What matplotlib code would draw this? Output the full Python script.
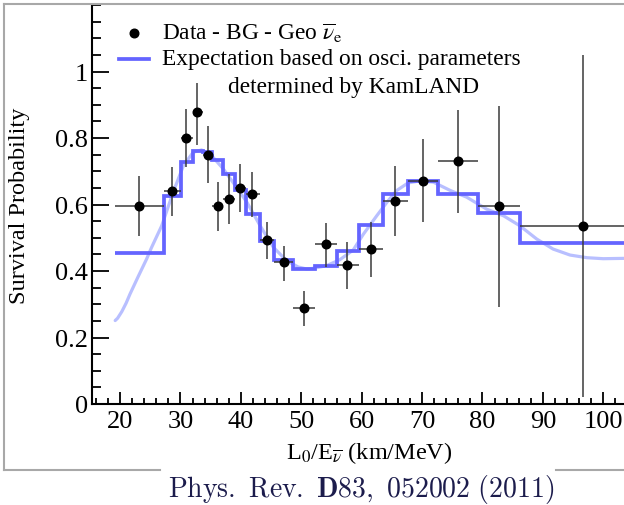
import matplotlib
matplotlib.use("Agg")
import matplotlib.pyplot as plt
import numpy as np
from matplotlib.lines import Line2D
from matplotlib.ticker import MultipleLocator, FuncFormatter

plt.rcParams['font.family'] = ['Liberation Serif', 'DejaVu Serif']
plt.rcParams['mathtext.fontset'] = 'stix'

# ---- data ----
bin_edges = [19.2, 27.2, 30.1, 32.1, 33.7, 35.3, 37.1, 39.0, 40.9, 43.2, 45.55,
             48.7, 52.3, 55.9, 59.6, 63.5, 67.7, 72.6, 79.2, 86.3, 107.0]
expect_hist = [0.455, 0.626, 0.727, 0.762, 0.757, 0.734, 0.692, 0.645, 0.571, 0.491,
               0.434, 0.406, 0.416, 0.461, 0.538, 0.631, 0.671, 0.633, 0.575, 0.484]

data_x = [23.2, 28.66, 31.0, 32.8, 34.5, 36.3, 38.0, 39.9, 41.9, 44.4,
          47.2, 50.5, 54.1, 57.6, 61.5, 65.5, 70.1, 75.9, 82.8, 96.6]
data_y = [0.595, 0.641, 0.799, 0.879, 0.750, 0.596, 0.617, 0.650, 0.632, 0.494,
          0.426, 0.289, 0.480, 0.418, 0.467, 0.611, 0.672, 0.731, 0.595, 0.536]
data_y_hi = [0.687, 0.712, 0.887, 0.965, 0.835, 0.669, 0.692, 0.722, 0.697, 0.548,
             0.476, 0.339, 0.544, 0.488, 0.548, 0.717, 0.797, 0.885, 0.895, 1.050]
data_y_lo = [0.506, 0.564, 0.712, 0.780, 0.665, 0.521, 0.541, 0.577, 0.561, 0.436,
             0.371, 0.236, 0.411, 0.346, 0.383, 0.504, 0.548, 0.574, 0.293, 0.020]

curve_x = [19.2, 19.6, 20.3, 21.0, 21.66, 23.0, 24.4, 25.2, 26.9, 28.8, 30.5, 32.1, 33.5, 35.4,
           37.1, 39.0, 41.0, 43.2, 45.4, 47.6, 49.5, 50.9, 52.0, 54.2, 56.4, 58.6,
           60.3, 62.5, 64.2, 65.8, 67.7, 69.7, 71.9, 74.7, 77.4, 80.7, 83.5, 86.2,
           89.0, 91.7, 94.5, 97.3, 100.0, 103.4]
curve_y = [0.251, 0.258, 0.278, 0.303, 0.331, 0.383, 0.436, 0.470, 0.536, 0.637, 0.717, 0.757, 0.764, 0.742,
           0.707, 0.659, 0.607, 0.536, 0.471, 0.431, 0.412, 0.406, 0.408, 0.416, 0.434, 0.463,
           0.511, 0.566, 0.607, 0.642, 0.665, 0.671, 0.667, 0.642, 0.622, 0.586, 0.566, 0.536,
           0.496, 0.466, 0.448, 0.440, 0.437, 0.438]

x_ticks = [20, 30, 40, 50, 60, 70, 80, 90, 100]
y_ticks = [0, 0.2, 0.4, 0.6, 0.8, 1.0]

W, H = 624, 506
fig = plt.figure(figsize=(W / 100, H / 100), dpi=100)
ax = fig.add_axes([92 / W, 101 / H, 532 / W, 399 / H])
ax.set_xlim(15.36, 103.44)
ax.set_ylim(0, 1.2)

hist_color = '#6464ff'
curve_color = '#b8bfff'

# smooth expectation curve
ax.plot(curve_x, curve_y, color=curve_color, lw=2.3, zorder=2, solid_capstyle='round',
        solid_joinstyle='round')
# binned expectation
edges = np.array(bin_edges)
vals = np.array(expect_hist)
ax.stairs(vals, edges, baseline=None, color=hist_color, lw=2.7, zorder=3)

# data points
dx = np.array(data_x)
dy = np.array(data_y)
xerr = [dx - edges[:-1], edges[1:] - dx]
yerr = [dy - np.array(data_y_lo), np.array(data_y_hi) - dy]
ax.errorbar(dx, dy, xerr=xerr, yerr=yerr, fmt='o', color='black', ms=6.2,
            ecolor='#3a3a3a', elinewidth=1.1, capsize=0, zorder=4, clip_on=True)

# axes styling
for s in ['top', 'right']:
    ax.spines[s].set_visible(False)
for s in ['left', 'bottom']:
    ax.spines[s].set_linewidth(1.5)
ax.set_xticks(x_ticks)
ax.set_yticks(y_ticks)
ax.xaxis.set_minor_locator(MultipleLocator(2))
ax.yaxis.set_minor_locator(MultipleLocator(0.05))
ax.yaxis.set_major_formatter(FuncFormatter(lambda v, p: '%g' % v))
ax.tick_params(axis='y', which='major', direction='in', length=12, width=1.3, labelsize=19, pad=3)
ax.tick_params(axis='y', which='minor', direction='in', length=6.3, width=1.3)
ax.tick_params(axis='x', which='major', direction='in', length=8.5, width=1.3, labelsize=19, pad=4)
ax.tick_params(axis='x', which='minor', direction='in', length=4.3, width=1.3)

# axis labels
fig.text(20 / W, 1 - 206 / H, 'Survival Probability', rotation=90, ha='center', va='center', fontsize=17.5)
fig.text(369 / W, 1 - 453 / H, r'L$_0$/E$_{\overline{\nu}}$ (km/MeV)', ha='center', va='center', fontsize=17.5)

# legend (manual)
ax.plot([134.3 / W], [1 - 34 / H], 'o', color='black', ms=6.2, transform=fig.transFigure, clip_on=False)
fig.add_artist(Line2D([119 / W, 149 / W], [1 - 60 / H, 1 - 60 / H], color=hist_color, lw=2.7))
fig.text(162 / W, 1 - 33 / H, r'Data - BG - Geo $\overline{\nu}_{\rm e}$', ha='left', va='center', fontsize=16.8)
fig.text(162 / W, 1 - 60 / H, 'Expectation based on osci. parameters', ha='left', va='center', fontsize=16.8)
fig.text(228 / W, 1 - 87 / H, 'determined by KamLAND', ha='left', va='center', fontsize=16.8)

# frame
fc = '#a8a8a8'
fig.add_artist(Line2D([4 / W, 1.0], [1 - 5 / H, 1 - 5 / H], color=fc, lw=1.5))
fig.add_artist(Line2D([4 / W, 4 / W], [1 - 5 / H, 1 - 471 / H], color=fc, lw=1.5))
fig.add_artist(Line2D([4 / W, 160 / W], [1 - 471 / H, 1 - 471 / H], color=fc, lw=1.5))
fig.add_artist(Line2D([556 / W, 1.0], [1 - 471 / H, 1 - 471 / H], color=fc, lw=1.5))

# caption
fig.text(361 / W, 1 - 490 / H, r'$\mathrm{Phys.\ Rev.\ }\mathbf{D83}\mathrm{,\ 052002\ (2011)}$',
         ha='center', va='center', fontsize=20, color='#1c1c4c', math_fontfamily='cm')

fig.savefig('out.png', dpi=100)
